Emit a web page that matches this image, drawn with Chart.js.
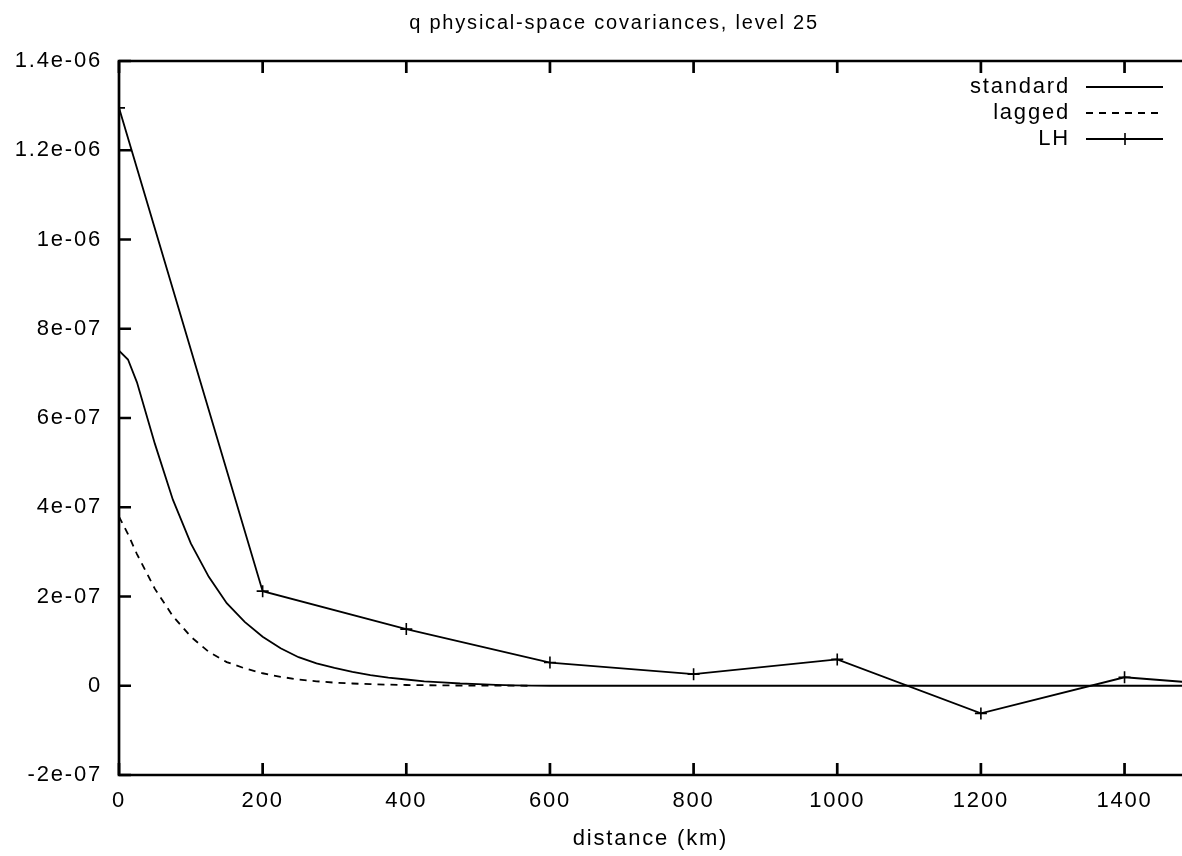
<!DOCTYPE html>
<html>
<head>
<meta charset="utf-8">
<script src="https://cdn.jsdelivr.net/npm/chart.js@4.4.1/dist/chart.umd.min.js"></script>
<style>
  html, body { margin: 0; padding: 0; background: #fff; }
  canvas { display: block; }
</style>
</head>
<body>
<canvas id="chart" width="1182" height="856"></canvas>
<script>
// distances (km) and covariance values
const curveDistance = [0, 12.5, 25, 50, 75, 100, 125, 150, 175, 200, 225, 250, 275, 300, 325, 350, 375, 400,
  425, 450, 475, 500, 525, 550, 575, 600, 800, 1000, 1200, 1400, 1600];
const standardValues = [7.51e-7, 7.31e-7, 6.80e-7, 5.42e-7, 4.17e-7, 3.19e-7, 2.44e-7, 1.85e-7, 1.43e-7, 1.10e-7,
  8.4e-8, 6.4e-8, 5.0e-8, 4.0e-8, 3.1e-8, 2.4e-8, 1.8e-8, 1.4e-8,
  1.0e-8, 7.5e-9, 5.0e-9, 3.5e-9, 2.0e-9, 1.0e-9, 3e-10, 0, 0, 0, 0, 0, 0];

const laggedDistance = [0, 12.5, 25, 50, 75, 100, 125, 150, 175, 200, 225, 250, 275, 300, 325, 350, 375, 400,
  425, 450, 475, 500, 525, 550, 575];
const laggedValues = [3.79e-7, 3.40e-7, 2.95e-7, 2.17e-7, 1.56e-7, 1.10e-7, 7.6e-8, 5.3e-8, 3.9e-8, 2.8e-8,
  2.0e-8, 1.4e-8, 1.0e-8, 7.0e-9, 5.0e-9, 3.5e-9, 2.5e-9, 1.7e-9,
  1.2e-9, 8e-10, 5e-10, 3e-10, 2e-10, 1e-10, 0];

const lhDistance = [0, 200, 400, 600, 800, 1000, 1200, 1400, 1600];
const lhValues = [1.295e-6, 2.12e-7, 1.27e-7, 5.2e-8, 2.6e-8, 5.9e-8, -6.2e-8, 1.9e-8, -6e-9];

const xTickValues = [0, 200, 400, 600, 800, 1000, 1200, 1400];
const xTickLabels = ['0', '200', '400', '600', '800', '1000', '1200', '1400'];
const yTickValues = [-2e-7, 0, 2e-7, 4e-7, 6e-7, 8e-7, 1e-6, 1.2e-6, 1.4e-6];
const yTickLabels = ['-2e-07', '0', '2e-07', '4e-07', '6e-07', '8e-07', '1e-06', '1.2e-06', '1.4e-06'];

const FONT = 'Liberation Sans, Arial, Helvetica, sans-serif';
const SPACING = '1.8px';

const toPoints = (xs, ys) => xs.map((x, i) => ({ x: x, y: ys[i] }));

// gnuplot-ish frame: border on three sides, inward ticks, legend with samples
const gnuplotFrame = {
  id: 'gnuplotFrame',
  afterInit(chart) { chart.ctx.letterSpacing = SPACING; },
  beforeUpdate(chart) { chart.ctx.letterSpacing = SPACING; },
  // the y labels stick out left of the axis box (title is centred off the padding)
  afterLayout(chart) { chart.scales.y.left = 0; },
  beforeDraw(chart) { chart.ctx.letterSpacing = SPACING; },
  afterDatasetsDraw(chart) {
    const { ctx, chartArea: a, scales } = chart;
    const tick = 12;
    ctx.save();
    ctx.strokeStyle = '#000';
    ctx.lineWidth = 2.7;
    ctx.beginPath();
    ctx.moveTo(a.right + 2, a.top);
    ctx.lineTo(a.left, a.top);
    ctx.lineTo(a.left, a.bottom);
    ctx.lineTo(a.right + 2, a.bottom);
    ctx.stroke();

    ctx.beginPath();
    scales.x.ticks.forEach(t => {
      const px = scales.x.getPixelForValue(t.value);
      ctx.moveTo(px, a.top);
      ctx.lineTo(px, a.top + tick);
      ctx.moveTo(px, a.bottom);
      ctx.lineTo(px, a.bottom - tick);
    });
    scales.y.ticks.forEach(t => {
      const py = scales.y.getPixelForValue(t.value);
      ctx.moveTo(a.left, py);
      ctx.lineTo(a.left + tick, py);
    });
    ctx.stroke();

    // key
    ctx.font = '22px ' + FONT;
    ctx.fillStyle = '#000';
    ctx.textAlign = 'right';
    ctx.textBaseline = 'middle';
    chart.data.datasets.forEach((ds, i) => {
      const y = a.top + 26 + i * 26;
      ctx.fillText(ds.label, a.right - 112, y);
      ctx.lineWidth = ds.borderWidth;
      ctx.setLineDash(ds.borderDash || []);
      ctx.beginPath();
      ctx.moveTo(a.right - 96, y);
      ctx.lineTo(a.right - 19, y);
      ctx.stroke();
      ctx.setLineDash([]);
      if (ds.pointRadius > 0) {
        const cx = a.right - 57;
        ctx.lineWidth = ds.pointBorderWidth;
        ctx.beginPath();
        ctx.moveTo(cx, y - ds.pointRadius);
        ctx.lineTo(cx, y + ds.pointRadius);
        ctx.moveTo(cx - ds.pointRadius, y);
        ctx.lineTo(cx + ds.pointRadius, y);
        ctx.stroke();
      }
    });
    ctx.restore();
  }
};

new Chart(document.getElementById('chart'), {
  type: 'line',
  data: {
    datasets: [
      {
        label: 'standard',
        data: toPoints(curveDistance, standardValues),
        borderColor: '#000',
        borderWidth: 1.8,
        pointRadius: 0,
        tension: 0
      },
      {
        label: 'lagged',
        data: toPoints(laggedDistance, laggedValues),
        borderColor: '#000',
        borderWidth: 1.8,
        borderDash: [7, 6],
        pointRadius: 0,
        tension: 0
      },
      {
        label: 'LH',
        data: toPoints(lhDistance, lhValues),
        borderColor: '#000',
        borderWidth: 1.8,
        pointStyle: 'cross',
        pointRadius: 6,
        pointBorderWidth: 1.6,
        pointBorderColor: '#000',
        tension: 0
      }
    ]
  },
  options: {
    responsive: false,
    animation: false,
    devicePixelRatio: 1,
    layout: { autoPadding: false, padding: { left: 46, right: 0, top: 0, bottom: 0 } },
    plugins: {
      legend: { display: false },
      tooltip: { enabled: false },
      title: {
        display: true,
        text: 'q physical-space covariances, level 25',
        color: '#000',
        font: { family: FONT, size: 20, weight: 'normal' },
        padding: { top: 11, bottom: 26 }
      }
    },
    scales: {
      x: {
        type: 'linear',
        min: 0,
        max: 1480,
        afterBuildTicks: s => { s.ticks = xTickValues.map(v => ({ value: v })); },
        afterFit: s => { s.height = 81; s.paddingLeft = 0; s.paddingRight = 0; },
        grid: { display: false, drawTicks: false },
        border: { display: false },
        ticks: {
          color: '#000',
          padding: 13,
          maxRotation: 0,
          font: { family: FONT, size: 22 },
          callback: (v, i) => xTickLabels[i]
        },
        title: {
          display: true,
          text: 'distance (km)',
          color: '#000',
          font: { family: FONT, size: 22 },
          padding: { top: 0, bottom: 4 }
        }
      },
      y: {
        type: 'linear',
        min: -2e-7,
        max: 1.4e-6,
        afterBuildTicks: s => { s.ticks = yTickValues.map(v => ({ value: v })); },
        afterFit: s => { s.width = 73; s.paddingTop = 0; s.paddingBottom = 0; },
        grid: { display: false, drawTicks: false },
        border: { display: false },
        ticks: {
          color: '#000',
          padding: 17,
          font: { family: FONT, size: 22 },
          callback: (v, i) => yTickLabels[i]
        }
      }
    }
  },
  plugins: [gnuplotFrame]
});
</script>
</body>
</html>
